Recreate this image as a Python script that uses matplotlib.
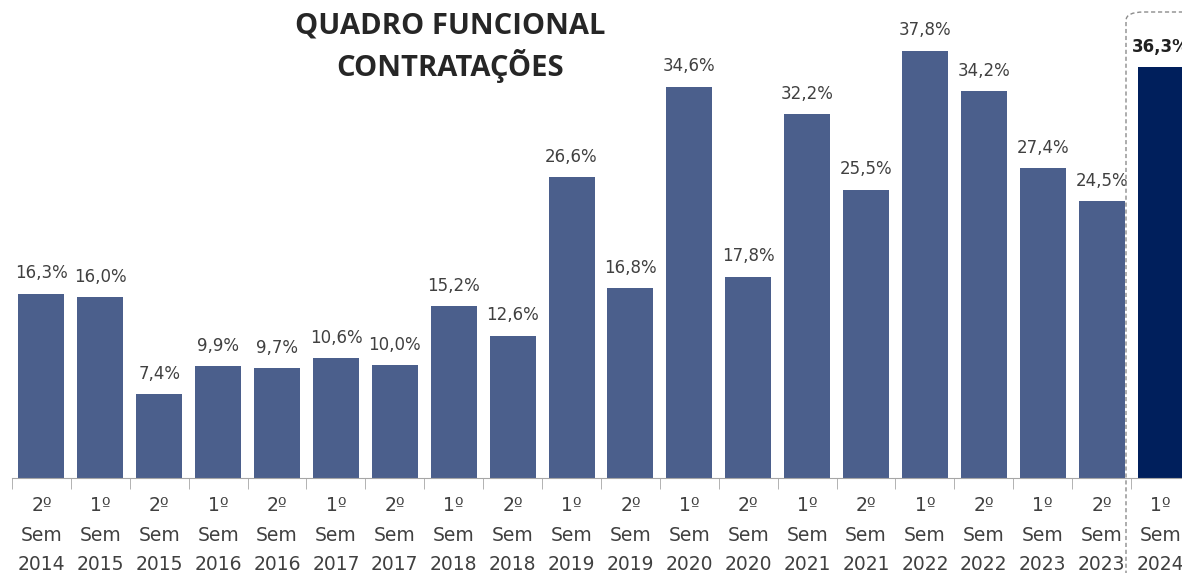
import matplotlib.pyplot as plt
from matplotlib.patches import FancyBboxPatch
import numpy as np

# Dados
periodos = ['2º\nSem\n2014', '1º\nSem\n2015', '2º\nSem\n2015', '1º\nSem\n2016', '2º\nSem\n2016',
            '1º\nSem\n2017', '2º\nSem\n2017', '1º\nSem\n2018', '2º\nSem\n2018', '1º\nSem\n2019',
            '2º\nSem\n2019', '1º\nSem\n2020', '2º\nSem\n2020', '1º\nSem\n2021', '2º\nSem\n2021',
            '1º\nSem\n2022', '2º\nSem\n2022', '1º\nSem\n2023', '2º\nSem\n2023', '1º\nSem\n2024']
contratacoes = [16.3, 16.0, 7.4, 9.9, 9.7, 10.6, 10.0, 15.2, 12.6, 26.6,
                16.8, 34.6, 17.8, 32.2, 25.5, 37.8, 34.2, 27.4, 24.5, 36.3]

cor_barra = '#4B5F8C'
cor_destaque = '#001F5C'
cor_texto = '#404040'

fig = plt.figure(figsize=(11.82, 5.73), dpi=100)
ax = fig.add_axes([12 / 1182, 95 / 573, 1178 / 1182, 475 / 573])

x = np.arange(len(contratacoes))
cores = [cor_barra] * (len(contratacoes) - 1) + [cor_destaque]
barras = ax.bar(x, contratacoes, width=0.78, color=cores)

# Rótulos de valor
for i, v in enumerate(contratacoes):
    ultimo = i == len(contratacoes) - 1
    ax.text(i, v + 1.0, f'{v:.1f}%'.replace('.', ','), ha='center', va='bottom',
            fontsize=12, color='#202020' if ultimo else cor_texto,
            fontweight='bold' if ultimo else 'normal', family='DejaVu Sans')

ax.set_xlim(-0.5, len(contratacoes) - 0.5)
ax.set_ylim(0, 42)
ax.set_yticks([])
for s in ['top', 'right', 'left']:
    ax.spines[s].set_visible(False)
ax.spines['bottom'].set_color('#A6A6A6')

ax.set_xticks(x)
ax.set_xticklabels(periodos, fontsize=13.5, color=cor_texto, linespacing=1.7)
ax.tick_params(axis='x', length=0, pad=13)
ax.set_xticks(np.arange(-0.5, len(contratacoes)), minor=True)
ax.tick_params(axis='x', which='minor', length=8, color='#A6A6A6')

# Título
fig.text(450 / 1182, 1 - 47 / 573, 'QUADRO FUNCIONAL\nCONTRATAÇÕES', ha='center', va='center',
         fontsize=21, fontweight='bold', color='#262626', family='Open Sans', linespacing=1.3)

# Destaque do último período
caixa = FancyBboxPatch((1126 / 1182, -0.05), 0.2, 1 - 12 / 573 + 0.05,
                       boxstyle='round,pad=0,rounding_size=0.015',
                       transform=fig.transFigure, fill=False, linestyle=(0, (3, 2)),
                       edgecolor='#8C8C8C', linewidth=1)
fig.patches.append(caixa)

fig.savefig('out.png', dpi=100)
